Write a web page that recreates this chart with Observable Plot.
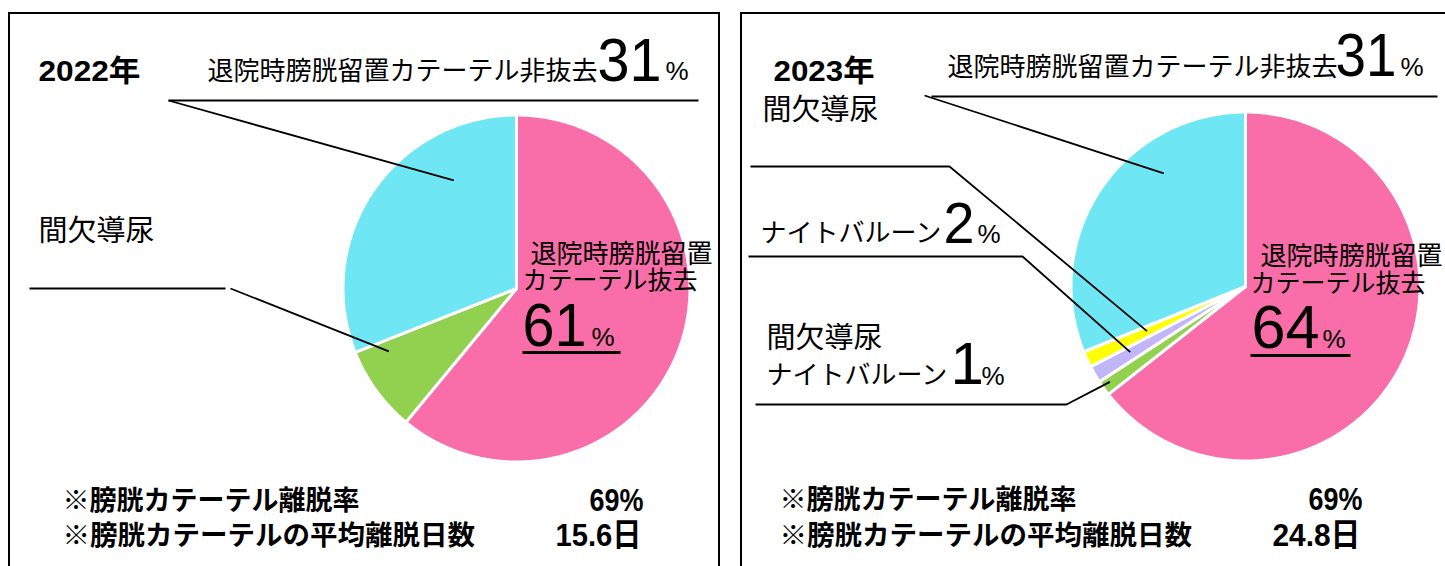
<!DOCTYPE html>
<html><head><meta charset="utf-8">
<script src="https://cdn.jsdelivr.net/npm/d3@7"></script>
<script src="https://cdn.jsdelivr.net/npm/@observablehq/plot@0.6"></script>
<style>
body{margin:0;background:#fff;}
#wrap{position:relative;width:1445px;height:566px;overflow:hidden;background:#fff;}
.box{position:absolute;border:2px solid #000;box-sizing:border-box;pointer-events:none;z-index:2;}
</style></head><body><div id="wrap"></div>
<script>
// ---------------- data ----------------
const panelYears = ["2022年", "2023年"];
const sliceNames2022 = ["退院時膀胱留置カテーテル抜去", "間欠導尿", "退院時膀胱留置カテーテル非抜去"];
const sliceValues2022 = [61, 8, 31];
const sliceColors2022 = ["#F96DA8", "#92D050", "#6FE6F3"];
const sliceNames2023 = ["退院時膀胱留置カテーテル抜去", "間欠導尿ナイトバルーン", "ナイトバルーン", "間欠導尿", "退院時膀胱留置カテーテル非抜去"];
const sliceValues2023 = [64.4, 1.4, 1.6, 1.5, 31.1];
const sliceColors2023 = ["#F96DA8", "#92D050", "#C2B6FA", "#FFFF00", "#6FE6F3"];
const statLabels = ["※膀胱カテーテル離脱率", "※膀胱カテーテルの平均離脱日数"];
const statRates = ["69%", "69%"];
const statDays = ["15.6日", "24.8日"];
const pctSign = "%";

// ---------------- layout ----------------
const JP = "'Noto Sans CJK JP', sans-serif";
const NUM = "'Liberation Sans', 'Noto Sans CJK JP', sans-serif";
const PCT = "'Liberation Sans', sans-serif";

const panels = [
  {
    names: sliceNames2022, values: sliceValues2022, colors: sliceColors2022, year: panelYears[0],
    rate: statRates[0], days: statDays[0],
    cx: 516, cy: 288, r: 173.5, box: {left: 8, top: 12, width: 712},
    yearPos: [38, 80, 102], statX: 62, statY: [509, 544], statEnd: [643, 641], statW: [54, 86],
    labels: [
      {i: 2, lines: [{t: "full", x: 207, y: 79, s: 26}], pct: {x: 597, y: 80, s: 61, w: 64, px: 665, py: 79}},
      {i: 1, lines: [{t: "full", x: 38, y: 240, s: 29}]},
      {i: 0, lines: [{t: "a", x: 530, y: 262, s: 26}, {t: "b", x: 522, y: 288, s: 25}],
       pct: {x: 522, y: 345, s: 62, w: 64, px: 591, py: 345, ul: [522, 620, 352]}}
    ],
    leaders: [
      {i: 2, path: [[168, 100], [698, 100]], frac: 0.73, rf: 0.72, from: [168, 100]},
      {i: 1, path: [[29, 288], [225, 288]], frac: 0.84, rf: 0.82, from: [230, 288]}
    ]
  },
  {
    names: sliceNames2023, values: sliceValues2023, colors: sliceColors2023, year: panelYears[1],
    rate: statRates[1], days: statDays[1],
    cx: 1245, cy: 286, r: 174.5, box: {left: 740, top: 12, width: 720},
    yearPos: [773, 80, 101], statX: 779, statY: [508, 544], statEnd: [1362, 1360], statW: [54, 88],
    labels: [
      {i: 4, lines: [{t: "full", x: 947, y: 75, s: 26}], pct: {x: 1335, y: 75, s: 61, w: 61, px: 1400, py: 75}},
      {i: 3, lines: [{t: "full", x: 762, y: 119, s: 29}]},
      {i: 2, lines: [{t: "full", x: 760, y: 241, s: 26}], pct: {x: 943, y: 242, s: 58, w: 31, px: 977, py: 242}},
      {i: 1, lines: [{t: "p0", x: 766, y: 347, s: 29}, {t: "p1", x: 766, y: 383, s: 26}], pct: {x: 950, y: 383, s: 60, px: 981, py: 384}},
      {i: 0, lines: [{t: "a", x: 1260, y: 264, s: 26}, {t: "b", x: 1250, y: 291, s: 25}],
       pct: {x: 1251, y: 347, s: 62, w: 68, px: 1322, py: 347, ul: [1250, 1350, 355]}}
    ],
    leaders: [
      {i: 4, path: [[931, 96], [1437, 96]], frac: 0.68, rf: 0.8, from: [924, 95]},
      {i: 3, path: [], frac: 0.55, rf: 0.62, from: [[750, 166], [949, 166]]},
      {i: 2, path: [], frac: 0.6, rf: 0.76, from: [[748, 256], [1022, 256]]},
      {i: 1, path: [], frac: 0.6, rf: 0.95, from: [[755, 404], [1066, 404]]}
    ]
  }
];

function splitName(name, key) {
  if (key === "full") return name;
  if (key === "a") return name.slice(0, 7);
  if (key === "b") return name.slice(7);
  if (key === "p0") return name.slice(0, 4);
  if (key === "p1") return name.slice(4);
  return name;
}

const marks = [];
const texts = [];
const segs = [];
let segId = 0;

for (const p of panels) {
  const arcs = d3.pie().sort(null).startAngle(0).endAngle(2 * Math.PI)(p.values);
  const pt = (a, rr) => ({x: p.cx + rr * Math.sin(a), y: p.cy - rr * Math.cos(a)});
  arcs.forEach((a, k) => {
    const pts = [{x: p.cx, y: p.cy}];
    const n = Math.max(4, Math.ceil((a.endAngle - a.startAngle) / (Math.PI / 360)));
    for (let j = 0; j <= n; j++) pts.push(pt(a.startAngle + (a.endAngle - a.startAngle) * j / n, p.r));
    pts.push({x: p.cx, y: p.cy});
    marks.push(Plot.line(pts, {x: "x", y: "y", fill: p.colors[k], stroke: "white", strokeWidth: 3, strokeLinejoin: "miter", strokeMiterlimit: 2, curve: "linear"}));
  });
  for (const L of p.leaders) {
    const a = arcs[L.i];
    const end = pt(a.startAngle + (a.endAngle - a.startAngle) * L.frac, p.r * L.rf);
    if (L.path.length) {
      const id = segId++;
      L.path.forEach(([x, y]) => segs.push({id, x, y}));
      const id2 = segId++;
      segs.push({id: id2, x: L.from[0], y: L.from[1]}, {id: id2, x: end.x, y: end.y});
    } else {
      const id = segId++;
      L.from.forEach(([x, y]) => segs.push({id, x, y}));
      segs.push({id, x: end.x, y: end.y});
    }
  }
  texts.push({text: p.year, x: p.yearPos[0], y: p.yearPos[1], size: 30, weight: "bold", font: "'Liberation Sans', 'Noto Sans CJK JP', sans-serif", anchor: "start", w: p.yearPos[2]});
  for (const lab of p.labels) {
    for (const ln of lab.lines) {
      texts.push({text: splitName(p.names[lab.i], ln.t), x: ln.x, y: ln.y, size: ln.s, weight: "normal", font: JP, anchor: "start"});
    }
    if (lab.pct) {
      texts.push({text: String(Math.round(p.values[lab.i])), x: lab.pct.x, y: lab.pct.y, size: lab.pct.s, weight: "normal", font: NUM, anchor: "start", w: lab.pct.w});
      texts.push({text: pctSign, x: lab.pct.px, y: lab.pct.py, size: 26, weight: "normal", font: PCT, anchor: "start"});
      if (lab.pct.ul) {
        const id = segId++;
        segs.push({id, x: lab.pct.ul[0], y: lab.pct.ul[2], w: 3}, {id, x: lab.pct.ul[1], y: lab.pct.ul[2], w: 3});
      }
    }
  }
  texts.push({text: statLabels[0], x: p.statX, y: p.statY[0], size: 27, weight: "bold", font: JP, anchor: "start"});
  texts.push({text: statLabels[1], x: p.statX, y: p.statY[1], size: 27.5, weight: "bold", font: JP, anchor: "start"});
  texts.push({text: p.rate, x: p.statEnd[0], y: p.statY[0] + 1, size: 32, weight: "bold", font: NUM, anchor: "end", w: p.statW[0]});
  texts.push({text: p.days, x: p.statEnd[1], y: p.statY[1] + 1, size: 32, weight: "bold", font: NUM, anchor: "end", w: p.statW[1]});
}

const ulSegs = segs.filter(d => d.w === 3);
const leaderSegs = segs.filter(d => d.w !== 3);
marks.push(Plot.line(leaderSegs, {x: "x", y: "y", z: "id", stroke: "#000", strokeWidth: 1.8, strokeLinecap: "butt", strokeLinejoin: "miter", curve: "linear"}));
marks.push(Plot.line(ulSegs, {x: "x", y: "y", z: "id", stroke: "#000", strokeWidth: 3, strokeLinecap: "butt", curve: "linear"}));

texts.forEach((t) => {
  marks.push(Plot.text([t], {x: "x", y: "y", text: "text", fontSize: t.size, fontWeight: t.weight, fontFamily: t.font, textAnchor: t.anchor, lineAnchor: "bottom", fill: "#000"}));
});

const chart = Plot.plot({
  width: 1445, height: 566,
  marginTop: 0, marginRight: 0, marginBottom: 0, marginLeft: 0,
  x: {domain: [0, 1445], range: [0, 1445], axis: null},
  y: {domain: [0, 566], range: [0, 566], axis: null},
  style: {background: "white"},
  marks
});
// condense numerals to the reference's narrow width (one <text> per text mark, in order)
const textEls = chart.querySelectorAll("text");
texts.forEach((t, k) => {
  if (!t.w) return;
  const el = textEls[k];
  if (el && el.textContent === t.text) {
    el.setAttribute("textLength", t.w);
    el.setAttribute("lengthAdjust", "spacingAndGlyphs");
  }
});
const wrap = document.getElementById("wrap");
wrap.appendChild(chart);
chart.style.position = "absolute";
chart.style.left = "0px";
chart.style.top = "0px";
for (const p of panels) {
  const b = document.createElement("div");
  b.className = "box";
  b.style.left = p.box.left + "px";
  b.style.top = p.box.top + "px";
  b.style.width = p.box.width + "px";
  b.style.height = "700px";
  wrap.appendChild(b);
}
</script></body></html>
